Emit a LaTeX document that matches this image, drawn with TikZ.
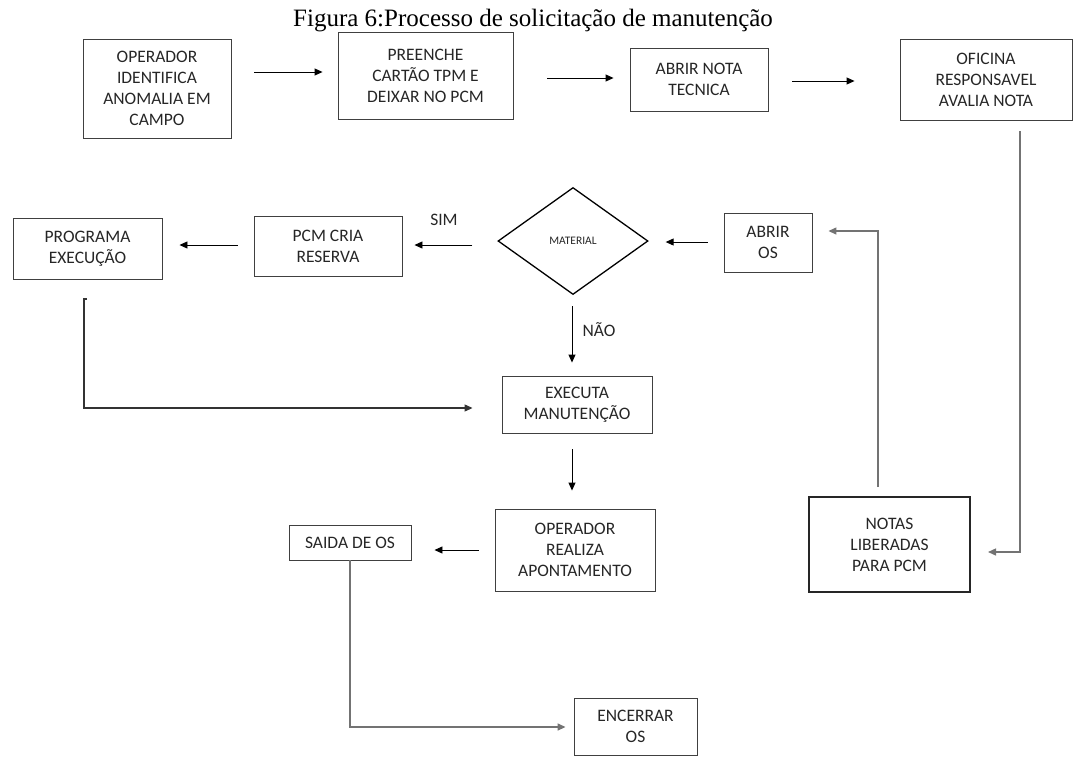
\documentclass[tikz,border=0pt]{standalone}
\usepackage{fontspec}
\setmainfont{Carlito}
\newfontfamily\titlefont{Liberation Serif}
\usetikzlibrary{shapes.geometric,arrows.meta,calc}
\begin{document}
\begin{tikzpicture}[x=1pt,y=-1pt,
 box/.style={draw=black!75, line width=0.9pt, inner sep=0pt, align=center, text=black!85, font=\fontsize{17.5}{21}\selectfont},
 arr/.style={-{Triangle[length=8pt,width=7pt]}, line width=0.9pt, black},
 elb/.style={-{Triangle[length=8pt,width=7pt]}, line width=1.4pt, black!55},
 lbl/.style={text=black!85, font=\fontsize{17.5}{21}\selectfont}]
\useasboundingbox (0,0) rectangle (1074,756);
\node[anchor=base west, inner sep=0pt, font=\titlefont\fontsize{25}{28}\selectfont] (title) at (293,26.5) {Figura 6:Processo de solicitação de manutenção};

\node[box, minimum width=148pt, minimum height=99pt] (op) at (157,88.5) {OPERADOR\\IDENTIFICA\\ANOMALIA EM\\CAMPO};
\node[box, minimum width=175pt, minimum height=87pt] (pre) at (425.5,75.5) {PREENCHE\\CARTÃO TPM E\\DEIXAR NO PCM};
\node[box, minimum width=138pt, minimum height=63pt] (nota) at (699,79.5) {ABRIR NOTA\\TECNICA};
\node[box, minimum width=172pt, minimum height=81pt] (ofi) at (986,79.5) {OFICINA\\RESPONSAVEL\\AVALIA NOTA};
\node[box, minimum width=88pt, minimum height=59pt] (abrir) at (768,242.5) {ABRIR\\OS};
\node[draw=black, line width=1.3pt, diamond, inner sep=0pt, minimum width=150pt, minimum height=107pt, text=black!85, font=\fontsize{11.5}{13}\selectfont] (dia) at (573,241) {MATERIAL};
\node[box, minimum width=148pt, minimum height=60pt] (pcm) at (328,246) {PCM CRIA\\RESERVA};
\node[box, minimum width=149pt, minimum height=61pt] (prog) at (87.5,248.5) {PROGRAMA\\EXECUÇÃO};
\node[box, minimum width=150pt, minimum height=57pt] (exe) at (577,404.5) {EXECUTA\\MANUTENÇÃO};
\node[box, minimum width=160pt, minimum height=82pt] (opr) at (575,550) {OPERADOR\\REALIZA\\APONTAMENTO};
\node[box, minimum width=122pt, minimum height=35pt] (sai) at (350,542.5) {SAIDA DE OS};
\node[box, minimum width=123pt, minimum height=57pt] (enc) at (635.5,726.5) {ENCERRAR\\OS};
\node[box, draw=black!85, line width=2pt, minimum width=161pt, minimum height=95pt] (notas) at (889.5,544.5) {NOTAS\\LIBERADAS\\PARA PCM};

\node[lbl] (sim) at (444,220) {SIM};
\node[lbl] (nao) at (599,330) {NÃO};

\draw[arr, shorten <=23pt, shorten >=15pt] (op.east |- 0,72) -- (pre.west |- 0,72);
\draw[arr, shorten <=34pt, shorten >=16pt] (pre.east |- 0,78) -- (nota.west |- 0,78);
\draw[arr, shorten <=24pt, shorten >=45pt] (nota.east |- 0,81) -- (ofi.west |- 0,81);
\draw[elb, shorten <=11pt, shorten >=17pt] (ofi.south -| 1020,0) -- (1020,552) -- (notas.east |- 0,552);
\draw[elb, shorten <=9pt, shorten >=16pt] (notas.north -| 878,0) -- (878,231) -- (abrir.east |- 0,231);
\draw[arr, shorten <=16pt, shorten >=17pt] (abrir.west |- 0,242) -- (dia.east |- 0,242);
\draw[arr, shorten <=25pt, shorten >=12pt] (dia.west |- 0,245) -- (pcm.east |- 0,245);
\draw[arr, shorten <=16pt, shorten >=17pt] (pcm.west |- 0,245) -- (prog.east |- 0,245);
\draw[arr, shorten <=11pt, shorten >=13pt] (dia.south -| 572,0) -- (exe.north -| 572,0);
\coordinate (tick) at (87,299);
\draw[arr, black!80, line width=1.1pt, shorten >=29pt] (tick) -- (84,299) -- (84,408) -- (exe.west |- 0,408);
\draw[arr, shorten <=16pt, shorten >=18pt] (exe.south -| 572,0) -- (opr.north -| 572,0);
\draw[arr, shorten <=16pt, shorten >=23pt] (opr.west |- 0,550) -- (sai.east |- 0,550);
\draw[elb, shorten >=8pt] (sai.south) -- (350,727) -- (enc.west |- 0,727);
\end{tikzpicture}
\end{document}
